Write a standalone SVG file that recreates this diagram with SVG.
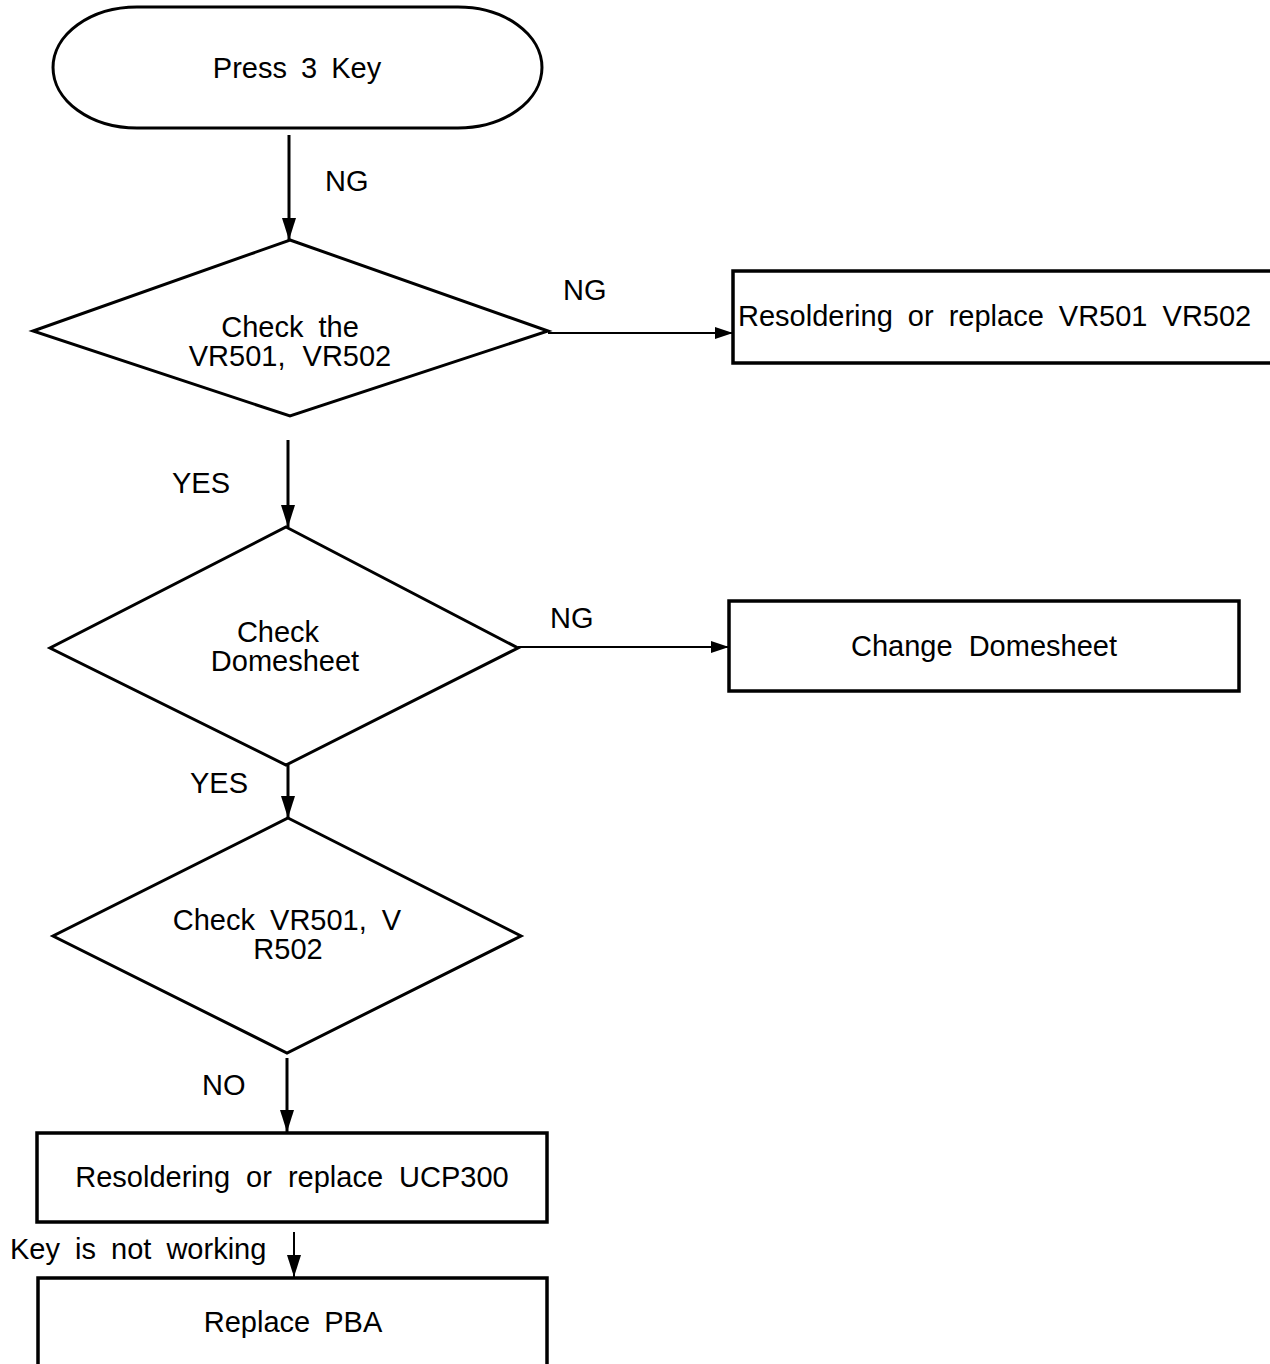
<svg xmlns="http://www.w3.org/2000/svg" width="1270" height="1364" viewBox="0 0 1270 1364">
<defs>
<style>
text{font-family:"Liberation Sans",Arial,sans-serif;font-size:29px;fill:#000;word-spacing:7px}
.m{text-anchor:middle}
.shape{fill:#fff;stroke:#000;stroke-width:3}
.box{fill:#fff;stroke:#000;stroke-width:3.5}
.conn{stroke:#000;stroke-width:3;fill:none}
.thin{stroke:#000;stroke-width:2;fill:none}
</style>
<marker id="ahv" viewBox="0 0 22 14" refX="22" refY="7" markerWidth="22" markerHeight="14" markerUnits="userSpaceOnUse" orient="auto">
<path d="M0,0 L22,7 L0,14 z" fill="#000"/>
</marker>
<marker id="ahh" viewBox="0 0 18 12" refX="18" refY="6" markerWidth="18" markerHeight="12" markerUnits="userSpaceOnUse" orient="auto">
<path d="M0,0 L18,6 L0,12 z" fill="#000"/>
</marker>
</defs>
<rect width="1270" height="1364" fill="#fff"/>

<g id="connectors">
<line class="conn" x1="289" y1="135" x2="289" y2="240" marker-end="url(#ahv)"/>
<line class="thin" x1="548" y1="333" x2="733" y2="333" marker-end="url(#ahh)"/>
<line class="conn" x1="288" y1="440" x2="288" y2="527" marker-end="url(#ahv)"/>
<line class="thin" x1="518" y1="647" x2="729" y2="647" marker-end="url(#ahh)"/>
<line class="conn" x1="288" y1="765" x2="288" y2="818" marker-end="url(#ahv)"/>
<line class="conn" x1="287" y1="1058" x2="287" y2="1132" marker-end="url(#ahv)"/>
<line class="thin" x1="294" y1="1232" x2="294" y2="1277" marker-end="url(#ahv)"/>
<text x="325" y="191">NG</text>
<text x="563" y="300">NG</text>
<text x="172" y="493">YES</text>
<text x="550" y="628">NG</text>
<text x="190" y="793">YES</text>
<text x="202" y="1095">NO</text>
<text x="10" y="1259">Key is not working</text>
</g>

<g id="start">
<path class="shape" d="M137,7 L458,7 A84,60.5 0 0 1 458,128 L137,128 A84,60.5 0 0 1 137,7 Z"/>
<text class="m" x="297" y="78" style="word-spacing:6px">Press 3 Key</text>
</g>

<g id="check1">
<polygon class="shape" points="290,240 548,331 290,416 33,331"/>
<text class="m" x="290" y="337">Check the</text>
<text class="m" x="290" y="366" style="word-spacing:9px">VR501, VR502</text>
</g>

<g id="fix1">
<rect class="box" x="733" y="271" width="545" height="92"/>
<text x="738" y="326">Resoldering or replace VR501 VR502</text>
</g>

<g id="check2">
<polygon class="shape" points="286,527 518,648 286,765 50,648"/>
<text class="m" x="278" y="642">Check</text>
<text class="m" x="285" y="671">Domesheet</text>
</g>

<g id="fix2">
<rect class="box" x="729" y="601" width="510" height="90"/>
<text class="m" x="984" y="656" style="word-spacing:8px">Change Domesheet</text>
</g>

<g id="check3">
<polygon class="shape" points="288,818 521,936 287,1053 53,936"/>
<text class="m" x="287" y="930">Check VR501, V</text>
<text class="m" x="288" y="959">R502</text>
</g>

<g id="fix3">
<rect class="box" x="37" y="1133" width="510" height="89"/>
<text class="m" x="292" y="1187" style="word-spacing:8px">Resoldering or replace UCP300</text>
</g>

<g id="fix4">
<rect class="box" x="38" y="1278" width="509" height="95"/>
<text class="m" x="293" y="1332" style="word-spacing:6px">Replace PBA</text>
</g>
</svg>
